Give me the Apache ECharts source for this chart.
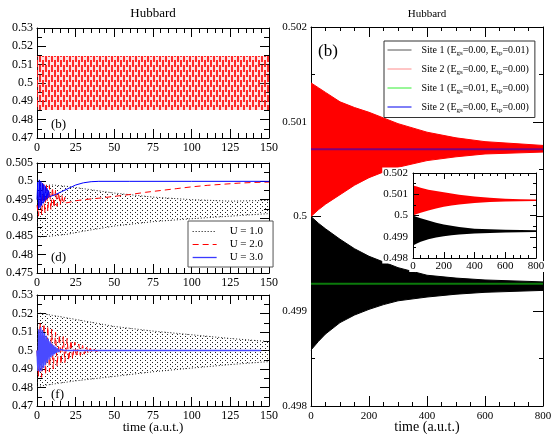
<!DOCTYPE html>
<html><head><meta charset="utf-8">
<script src="https://cdn.jsdelivr.net/npm/echarts@6/dist/echarts.min.js"></script>
<style>html,body{margin:0;padding:0;background:#fff}#c{width:551px;height:434px}</style>
</head><body><div id="c"></div>
<script>
// ---------------- DATA ----------------
// Panel (b), left: constant oscillation envelope
const bTime  = [0, 50, 100, 150];
const bUpper = [0.5147, 0.5147, 0.5147, 0.5147];
const bLower = [0.4853, 0.4853, 0.4853, 0.4853];

// Panel (d): U = 1.0 oscillation envelope
const dU1Time  = [0, 10, 20, 30, 50, 75, 100, 125, 150];
const dU1Upper = [0.4988, 0.4990, 0.4986, 0.4980, 0.4968, 0.4957, 0.4950, 0.4946, 0.4948];
const dU1Lower = [0.4848, 0.4851, 0.4856, 0.4864, 0.4878, 0.4890, 0.4898, 0.4905, 0.4912];
// Panel (d): U = 2.0
const dU2Time  = [0, 1, 2, 3, 4, 5, 6, 7, 8, 9, 10, 11, 12, 13, 14, 15, 16, 17, 18, 19, 20, 25, 30, 40, 50, 60, 70, 80, 90, 100, 110, 120, 130, 140, 150];
const dU2Value = [0.4935, 0.4905, 0.4995, 0.4908, 0.4997, 0.4913, 0.4993, 0.4918, 0.4988, 0.4923, 0.4983, 0.4928, 0.4977, 0.4932, 0.4970, 0.4936, 0.4963, 0.4939, 0.4956, 0.4941, 0.4946, 0.4947, 0.4950, 0.4954, 0.4959, 0.4964, 0.4970, 0.4975, 0.4980, 0.4985, 0.4989, 0.4992, 0.4995, 0.4997, 0.4998];
// Panel (d): U = 3.0
const dU3Time  = [0, 0.5, 1, 1.5, 2, 2.5, 3, 3.5, 4, 4.5, 5, 5.5, 6, 6.5, 7, 7.5, 8, 12, 16, 20, 25, 30, 35, 40, 60, 100, 150];
const dU3Value = [0.4950, 0.4998, 0.4925, 0.5004, 0.4928, 0.5000, 0.4934, 0.4995, 0.4940, 0.4991, 0.4945, 0.4986, 0.4950, 0.4981, 0.4954, 0.4975, 0.4958, 0.4964, 0.4972, 0.4980, 0.4990, 0.4996, 0.4999, 0.5000, 0.5000, 0.5000, 0.5000];

// Panel (f): U = 1.0 oscillation envelope
const fU1Time  = [0, 10, 25, 50, 75, 100, 125, 150];
const fU1Upper = [0.5205, 0.5190, 0.5168, 0.5130, 0.5105, 0.5085, 0.5065, 0.5048];
const fU1Lower = [0.4805, 0.4818, 0.4836, 0.4860, 0.4885, 0.4905, 0.4924, 0.4940];
// Panel (f): U = 2.0
const fU2Time  = [0, 1, 2, 3, 4.5, 5.5, 7, 8, 9.5, 10.5, 12, 13, 14.5, 15.5, 17, 18, 19.5, 20.5, 22, 23, 24.5, 25.5, 27, 28, 29.5, 30.5, 32, 33, 34.5, 35.5, 37, 38, 40, 145];
const fU2Value = [0.5000, 0.4860, 0.5150, 0.4855, 0.5145, 0.4870, 0.5130, 0.4885, 0.5115, 0.4900, 0.5100, 0.4915, 0.5085, 0.4925, 0.5075, 0.4935, 0.5065, 0.4945, 0.5055, 0.4955, 0.5045, 0.4965, 0.5035, 0.4973, 0.5027, 0.4980, 0.5020, 0.4985, 0.5013, 0.4990, 0.5008, 0.4995, 0.5000, 0.5000];
// Panel (f): U = 3.0
const fU3Time  = [0, 0.6, 1.2, 1.8, 2.4, 3, 3.6, 4.2, 4.8, 5.4, 6, 6.6, 7.2, 7.8, 8.4, 9, 9.6, 10.2, 10.8, 11.4, 12, 12.6, 13.2, 14, 15, 16, 18, 145];
const fU3Value = [0.5000, 0.4890, 0.5115, 0.4885, 0.5125, 0.4890, 0.5110, 0.4905, 0.5095, 0.4920, 0.5080, 0.4935, 0.5065, 0.4950, 0.5050, 0.4962, 0.5038, 0.4972, 0.5028, 0.4980, 0.5020, 0.4987, 0.5012, 0.4993, 0.5005, 0.4998, 0.5000, 0.5000];

// Right panel (and inset): envelopes
const rTime        = [0, 25, 50, 100, 150, 200, 250, 300, 400, 500, 600, 700, 800];
const rRedUpper    = [0.50141, 0.50136, 0.50131, 0.50121, 0.50115, 0.50110, 0.50104, 0.50098, 0.50089, 0.50083, 0.50079, 0.50077, 0.50075];
const rRedLower    = [0.50000, 0.50007, 0.50013, 0.50023, 0.50033, 0.50041, 0.50047, 0.50052, 0.50059, 0.50063, 0.50066, 0.50067, 0.50068];
const rBlackUpper  = [0.50000, 0.49993, 0.49987, 0.49976, 0.49966, 0.49958, 0.49952, 0.49946, 0.49938, 0.49935, 0.49933, 0.49932, 0.49931];
const rBlackLower  = [0.49859, 0.49868, 0.49876, 0.49888, 0.49896, 0.49902, 0.49907, 0.49911, 0.49915, 0.49918, 0.49920, 0.49921, 0.49922];
const rLineTime    = [0, 800];
const rGreenValue  = [0.49929, 0.49929];
const rBlueValue   = [0.50071, 0.50071];

// Text
const leftLegendLabels  = ['U = 1.0', 'U = 2.0', 'U = 3.0'];
const rightLegendLabels = [
  'Site 1 (E{s|gs}=0.00, E{s|tp}=0.01)',
  'Site 2 (E{s|gs}=0.00, E{s|tp}=0.00)',
  'Site 1 (E{s|gs}=0.01, E{s|tp}=0.00)',
  'Site 2 (E{s|gs}=0.00, E{s|tp}=0.00)'
];
const panelTitles = ['Hubbard', 'Hubbard'];
const panelTags = ['(b)', '(d)', '(f)', '(b)'];
const xName = 'time (a.u.t.)';

// ---------------- STYLE HELPERS ----------------
const FONT = 'Liberation Serif';
function pattern(w, h, draw) {
  const c = document.createElement('canvas'); c.width = w; c.height = h;
  const ctx = c.getContext('2d'); draw(ctx);
  return { image: c, repeat: 'repeat' };
}
const redDash = pattern(6, 10, ctx => {
  ctx.fillStyle = 'rgba(255,120,120,0.22)';
  ctx.fillRect(0, 0, 6, 10);
  ctx.fillStyle = 'rgba(255,25,25,0.92)';
  ctx.fillRect(0, 0, 2, 7);
  ctx.fillRect(3, 5, 2, 5); ctx.fillRect(3, 0, 2, 2);
});
const blackDots = pattern(5, 4, ctx => {
  ctx.fillStyle = '#222';
  ctx.fillRect(0, 0, 1, 1); ctx.fillRect(2, 2, 1, 1);
});

const gridBase = { containLabel: false, outerBoundsMode: 'none' };
const grids = [
  { ...gridBase, left: 37, top: 28, width: 232, height: 110 },
  { ...gridBase, left: 37, top: 163, width: 232, height: 110 },
  { ...gridBase, left: 37, top: 295, width: 232, height: 111 },
  { ...gridBase, left: 311, top: 27, width: 232, height: 379 },
  { ...gridBase, left: 413, top: 173, width: 123, height: 85, show: true, backgroundColor: '#fff', borderWidth: 0, z: 5 }
];
const axisCfg = [
  { x: [0, 150, 25, 5], y: [0.47, 0.53, 0.01, 2], fs: 12, maj: 9, min: 5, mx: 4 },
  { x: [0, 150, 25, 5], y: [0.475, 0.505, 0.005, 2], fs: 12, maj: 9, min: 5, mx: 4 },
  { x: [0, 150, 25, 5], y: [0.47, 0.53, 0.01, 2], fs: 12, maj: 9, min: 5, mx: 4, name: xName, nameFs: 13, gap: 15 },
  { x: [0, 800, 200, 4], y: [0.498, 0.502, 0.001, 2], fs: 11, maj: 10, min: 4, mx: 5, name: xName, nameFs: 14, gap: 14 },
  { x: [0, 800, 200, 4], y: [0.498, 0.502, 0.001, 2], fs: 11, maj: 6, min: 3, mx: 3, z: 12, inset: true }
];
const xAxes = [], yAxes = [];
axisCfg.forEach((a, g) => {
  const line = { lineStyle: { color: '#000', width: 1 } };
  ['bottom', 'top'].forEach((pos, k) => {
    xAxes.push({
      gridIndex: g, type: 'value', position: pos, min: a.x[0], max: a.x[1], interval: a.x[2], z: a.z || 0,
      axisLine: { show: true, onZero: false, ...line },
      axisTick: { show: true, inside: true, length: a.maj, ...line },
      minorTick: { show: true, splitNumber: a.x[3], length: a.min, ...line },
      splitLine: { show: false },
      axisLabel: Object.assign({ show: k === 0, color: '#000', fontFamily: FONT, fontSize: a.fs, margin: a.mx },
        a.inset ? { backgroundColor: '#fff', padding: [0, 1, 0, 1] } : {}),
      name: k === 0 && a.name ? a.name : '', nameLocation: 'middle', nameGap: a.gap || 19,
      nameMoveOverlap: false,
      nameTextStyle: { color: '#000', fontFamily: FONT, fontSize: a.nameFs || 13 }
    });
  });
  ['left', 'right'].forEach((pos, k) => {
    yAxes.push({
      gridIndex: g, type: 'value', position: pos, min: a.y[0], max: a.y[1], interval: a.y[2], z: a.z || 0,
      axisLine: { show: true, onZero: false, ...line },
      axisTick: { show: true, inside: true, length: a.maj, ...line },
      minorTick: { show: true, splitNumber: a.y[3], length: a.min, ...line },
      splitLine: { show: false },
      axisLabel: Object.assign({ show: k === 0, color: '#000', fontFamily: FONT, fontSize: a.fs, margin: 4 },
        a.inset ? { backgroundColor: '#fff', padding: [0, 1, 0, 1] } : {})
    });
  });
});

const series = [];
// filled envelope between lower and upper arrays, placed through the axes' scales
function band(name, g, t, lo, hi, fill, z) {
  series.push({
    name: name, type: 'custom', xAxisIndex: 2 * g, yAxisIndex: 2 * g, z: z || 2, silent: true,
    data: t.map((x, i) => [x, lo[i], hi[i]]),
    encode: { x: 0, y: [1, 2] },
    renderItem: (params, api) => {
      if (params.dataIndex !== 0) return null;
      const pts = [];
      for (let i = 0; i < t.length; i++) pts.push(api.coord([t[i], hi[i]]));
      for (let i = t.length - 1; i >= 0; i--) pts.push(api.coord([t[i], lo[i]]));
      return { type: 'polygon', shape: { points: pts }, style: { fill: fill, stroke: null } };
    }
  });
}
function curve(name, g, t, v, style, z) {
  series.push({
    name: name, type: 'line', xAxisIndex: 2 * g, yAxisIndex: 2 * g,
    data: t.map((x, i) => [x, v[i]]), symbol: 'none', showSymbol: false,
    itemStyle: { color: style.color }, lineStyle: style, z: z || 3
  });
}
const dotted = { color: '#222', width: 1, type: [1, 2] };

// Panel (b)
band('_b', 0, bTime, bLower, bUpper, redDash);
// Panel (d)
band('_d1', 1, dU1Time, dU1Lower, dU1Upper, blackDots);
curve(leftLegendLabels[0], 1, dU1Time, dU1Upper, dotted, 2);
curve('_d1l', 1, dU1Time, dU1Lower, dotted, 2);
curve(leftLegendLabels[1], 1, dU2Time, dU2Value, { color: '#ff0000', width: 1, type: [6, 4] }, 3);
curve(leftLegendLabels[2], 1, dU3Time, dU3Value, { color: '#0000ff', width: 1, type: 'solid' }, 4);
// Panel (f)
band('_f1', 2, fU1Time, fU1Lower, fU1Upper, blackDots);
curve('_f1u', 2, fU1Time, fU1Upper, dotted, 2);
curve('_f1l', 2, fU1Time, fU1Lower, dotted, 2);
curve('_f2', 2, fU2Time, fU2Value, { color: '#ff0000', width: 1, type: [6, 4] }, 3);
curve('_f3', 2, fU3Time, fU3Value, { color: '#4a4aff', width: 1.5 }, 4);
// Right panel
band('_r1', 3, rTime, rBlackLower, rBlackUpper, '#000');
curve('S1', 3, rTime, rBlackUpper, { color: '#000', width: 1 }, 3);
curve('_r1l', 3, rTime, rBlackLower, { color: '#000', width: 1 }, 3);
band('_r2', 3, rTime, rRedLower, rRedUpper, '#ff0000');
curve('S2', 3, rTime, rRedUpper, { color: '#ff0000', width: 1 }, 3);
curve('_r2l', 3, rTime, rRedLower, { color: '#ff0000', width: 1 }, 3);
curve('S3', 3, rLineTime, rGreenValue, { color: '#0b7a0b', width: 2 }, 5);
curve('S4', 3, rLineTime, rBlueValue, { color: '#7d007d', width: 2 }, 5);
// Inset
band('_i1', 4, rTime, rBlackLower, rBlackUpper, '#000', 8);
band('_i2', 4, rTime, rRedLower, rRedUpper, '#ff0000', 8);

const rightNames = ['S1', 'S2', 'S3', 'S4'];
const rightIcon = ['#555555', '#ff8c8c', '#33ee33', '#0000ee'];
const leftIcon = [
  { color: '#000', type: [1, 2], width: 1, opacity: 1 },
  { color: '#ff0000', type: [6, 4], width: 1, opacity: 1 },
  { color: '#3a3aff', type: 'solid', width: 1.3, opacity: 1 }
];
const noSymbol = { opacity: 0 };

const option = {
  animation: false,
  backgroundColor: '#fff',
  grid: grids,
  xAxis: xAxes,
  yAxis: yAxes,
  series: series,
  legend: [
    {
      data: leftLegendLabels.map((n, i) => ({ name: n, itemStyle: noSymbol, lineStyle: leftIcon[i] })),
      left: 188, top: 221, orient: 'vertical', itemWidth: 24, itemHeight: 11, itemGap: 2,
      padding: [5, 10, 4, 4], borderColor: '#555', borderWidth: 1, backgroundColor: '#fff',
      selectedMode: false, z: 10,
      textStyle: { color: '#000', fontFamily: FONT, fontSize: 11, padding: [0, 0, 0, 8] }
    },
    {
      data: rightNames.map((n, i) => ({ name: n, itemStyle: noSymbol, lineStyle: { color: rightIcon[i], width: 1, opacity: 1, type: 'solid' } })),
      formatter: n => rightLegendLabels[rightNames.indexOf(n)],
      left: 384, top: 41, orient: 'vertical', itemWidth: 24, itemHeight: 12, itemGap: 7.5,
      padding: [4, 6, 4, 3], borderColor: '#333', borderWidth: 1, backgroundColor: '#fff',
      selectedMode: false, z: 10,
      textStyle: { color: '#000', fontFamily: FONT, fontSize: 10, padding: [0, 0, 0, 5],
        rich: { s: { fontFamily: FONT, fontSize: 7, padding: [6, 0, 0, 0] } } }
    }
  ],
  graphic: [
    { type: 'text', x: 153, y: 14, style: { text: panelTitles[0], font: '13px ' + FONT, fill: '#000', align: 'center', verticalAlign: 'middle' } },
    { type: 'text', x: 427, y: 14, style: { text: panelTitles[1], font: '11px ' + FONT, fill: '#000', align: 'center', verticalAlign: 'middle' } },
    { type: 'text', x: 51, y: 125, z: 10, style: { text: panelTags[0], font: '13px ' + FONT, fill: '#000', verticalAlign: 'middle' } },
    { type: 'text', x: 51, y: 258, z: 10, style: { text: panelTags[1], font: '13px ' + FONT, fill: '#000', verticalAlign: 'middle' } },
    { type: 'text', x: 51, y: 395, z: 10, style: { text: panelTags[2], font: '13px ' + FONT, fill: '#000', verticalAlign: 'middle' } },
    { type: 'text', x: 318, y: 52, z: 10, style: { text: panelTags[3], font: '17px ' + FONT, fill: '#000', verticalAlign: 'middle' } }
  ]
};
echarts.init(document.getElementById('c'), null, { renderer: 'canvas' }).setOption(option);
</script></body></html>
